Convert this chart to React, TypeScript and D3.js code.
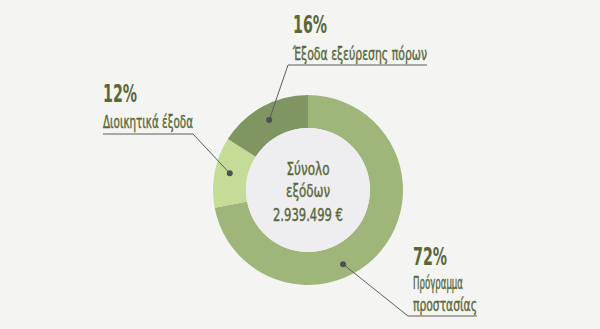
import React from "react";
import * as d3 from "d3";

const categories = ["Πρόγραμμα προστασίας", "Διοικητικά έξοδα", "Έξοδα εξεύρεσης πόρων"];
const values = [72, 12, 16];
const colors = ["#9fb67b", "#c4dc97", "#7f9663"];
const labelLines = [["Πρόγραμμα", "προστασίας"], ["Διοικητικά έξοδα"], ["Έξοδα εξεύρεσης πόρων"]];
const centerLines = ["Σύνολο", "εξόδων", "2.939.499 €"];

const W = 600, H = 329;
const cx = 308, cy = 190, rOuter = 95, rInner = 62;
const TEXT = "#58683a";
const FONT = "'DejaVu Sans Condensed', 'Roboto', sans-serif";

const layouts = [
  { x: 413, pctY: 265, lineY: [289, 311], dotAng: 154.7, dotR: 82, pctW: 34, lineW: [50, 64], join: [408, 316], end: 477 },
  { x: 103, pctY: 102, lineY: [128], dotAng: 282, dotR: 80, pctW: 34, lineW: [90], join: [193, 134], end: 103 },
  { x: 293, pctY: 33, lineY: [60], dotAng: 331, dotR: 80, pctW: 34, lineW: [134], join: [288, 65], end: 427 },
];

export default function App() {
  const pie = d3.pie<number>().sort(null).value((d) => d)(values);
  const arc = d3.arc<d3.PieArcDatum<number>>().innerRadius(rInner).outerRadius(rOuter);
  return (
    <svg width={W} height={H} style={{ position: "absolute", left: 0, top: 0 }} fontFamily={FONT}>
      <rect width={W} height={H} fill="#f4f4f2" />
      <g transform={`translate(${cx},${cy})`}>
        {pie.map((p, i) => (
          <path key={categories[i]} d={arc(p) || ""} fill={colors[i]} />
        ))}
        <circle r={rInner} fill="#eeedef" />
      </g>
      {centerLines.map((t, i) => (
        <text key={t} x={cx} y={[175, 197, 221][i]} textAnchor="middle" fontSize={18} fill={TEXT}
          stroke={TEXT} strokeWidth={0.4}
          textLength={[43, 44, 70][i]} lengthAdjust="spacingAndGlyphs">{t}</text>
      ))}
      {layouts.map((L, i) => {
        const a = (L.dotAng * Math.PI) / 180;
        const dx = cx + L.dotR * Math.sin(a);
        const dy = cy - L.dotR * Math.cos(a);
        return (
          <g key={i}>
            <polyline points={`${L.end},${L.join[1]} ${L.join[0]},${L.join[1]} ${dx},${dy}`}
              fill="none" stroke="#5a5e5a" strokeWidth={1} />
            <circle cx={dx} cy={dy} r={3} fill="#4d5250" />
            <text x={L.x} y={L.pctY} fontSize={24} fontWeight="bold" fill={TEXT} textLength={L.pctW} lengthAdjust="spacingAndGlyphs">
              {values[i]}%
            </text>
            {labelLines[i].map((t, j) => (
              <text key={j} x={L.x} y={L.lineY[j]} fontSize={17} fill={TEXT} stroke={TEXT} strokeWidth={0.4}
                textLength={L.lineW[j]} lengthAdjust="spacingAndGlyphs">{t}</text>
            ))}
          </g>
        );
      })}
    </svg>
  );
}
